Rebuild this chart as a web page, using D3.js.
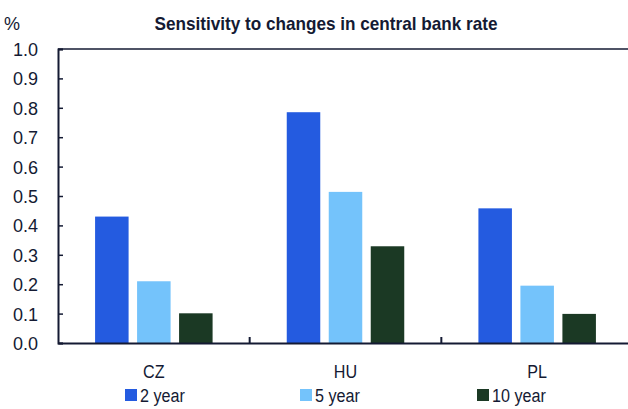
<!DOCTYPE html>
<html>
<head>
<meta charset="utf-8">
<script src="https://cdn.jsdelivr.net/npm/d3@7"></script>
<style>
html,body{margin:0;padding:0;background:#fff;}
svg{display:block;}
</style>
</head>
<body>
<svg id="chart" width="628" height="409"></svg>
<script>
const categories = ["CZ", "HU", "PL"];
const seriesNames = ["2 year", "5 year", "10 year"];
const values2y = [0.43, 0.785, 0.458];
const values5y = [0.21, 0.514, 0.195];
const values10y = [0.101, 0.329, 0.099];
const yTicks = [0.0, 0.1, 0.2, 0.3, 0.4, 0.5, 0.6, 0.7, 0.8, 0.9, 1.0];
const colors = ["#245BE0", "#74C3FB", "#1B3924"];
const chartTitle = "Sensitivity to changes in central bank rate";
const unitLabel = "%";

const seriesValues = [values2y, values5y, values10y];
const data = categories.map((c, i) => ({cat: c, vals: seriesNames.map((s, j) => ({s, j, v: seriesValues[j][i]}))}));

const svg = d3.select("#chart");
const axisColor = "#141a33";
const sans = "'Liberation Sans', Arial, sans-serif";
const narrow = 0.85;

const pLeft = 58, pRight = 633, pTop = 49, pBottom = 343;
const x0 = d3.scaleBand().domain(categories).range([pLeft, pRight]).paddingInner(0).paddingOuter(0);
const x1 = d3.scaleBand().domain(seriesNames).range([0, x0.bandwidth()]).paddingInner(0.202).paddingOuter(0.883);
const y = d3.scaleLinear().domain([0, 1]).range([pBottom, pTop]);

// bars
const g = svg.append("g");
g.selectAll("g.grp").data(data).join("g").attr("class", "grp")
  .attr("transform", d => `translate(${x0(d.cat)},0)`)
  .selectAll("rect").data(d => d.vals).join("rect")
  .attr("x", d => x1(d.s))
  .attr("width", x1.bandwidth())
  .attr("y", d => y(d.v))
  .attr("height", d => y(0) - y(d.v))
  .attr("fill", d => colors[d.j]);

// top frame line
svg.append("line").attr("x1", pLeft).attr("x2", pRight).attr("y1", y(1)).attr("y2", y(1))
  .attr("stroke", axisColor).attr("stroke-width", 1.5);

// y axis
const yAxis = d3.axisLeft(y).tickValues(yTicks).tickFormat(d3.format(".1f")).tickSize(-5).tickPadding(20);
const ya = svg.append("g").attr("transform", `translate(${pLeft},0)`).call(yAxis);
ya.select(".domain").attr("stroke", axisColor).attr("stroke-width", 2);
ya.selectAll(".tick line").attr("stroke", axisColor).attr("stroke-width", 1.5);
ya.selectAll(".tick text").attr("fill", axisColor).attr("font-family", sans).attr("font-size", 18).attr("dy", "0.36em");

// x axis
const xa = svg.append("g").attr("transform", `translate(0,${pBottom})`)
  .call(d3.axisBottom(x0).tickSize(0).tickPadding(22));
xa.select(".domain").attr("stroke", axisColor).attr("stroke-width", 2.2);
xa.selectAll(".tick text").attr("fill", axisColor).attr("font-family", sans).attr("font-size", 19)
  .attr("transform", `scale(${narrow},1)`);
// group separators
svg.append("g").selectAll("line").data(categories.slice(1)).join("line")
  .attr("x1", d => x0(d)).attr("x2", d => x0(d))
  .attr("y1", pBottom).attr("y2", pBottom - 6)
  .attr("stroke", axisColor).attr("stroke-width", 2);

// title
svg.append("text").attr("x", 326).attr("y", 30).attr("text-anchor", "middle")
  .attr("font-family", sans).attr("font-weight", "bold").attr("font-size", 19)
  .attr("textLength", 343).attr("lengthAdjust", "spacingAndGlyphs")
  .attr("fill", axisColor).text(chartTitle);
svg.append("text").attr("x", 4).attr("y", 30)
  .attr("font-family", sans).attr("font-size", 18)
  .attr("fill", axisColor).text(unitLabel);

// legend
const legendX = [125, 300, 477];
const lg = svg.append("g").selectAll("g").data(seriesNames).join("g")
  .attr("transform", (d, i) => `translate(${legendX[i]},389)`);
lg.append("rect").attr("width", 12).attr("height", 12).attr("fill", (d, i) => colors[i]);
lg.append("g").attr("transform", `translate(15,13) scale(${narrow},1)`)
  .append("text").attr("font-family", sans).attr("font-size", 19)
  .attr("fill", axisColor).text(d => d);
</script>
</body>
</html>
